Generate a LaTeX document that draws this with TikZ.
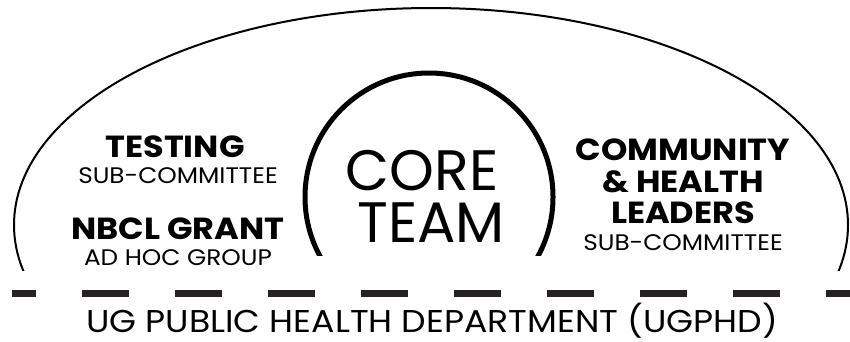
\documentclass[tikz,border=0pt]{standalone}
\usepackage{fontspec}
\setmainfont{Poppins}[FakeStretch=1.1]
\newfontfamily\corefont{Poppins}
\usetikzlibrary{positioning}
\definecolor{dashgray}{RGB}{38,34,35}

\tikzset{
  head/.style={anchor=base,font=\bfseries\fontsize{30.5}{33}\selectfont},
  sub/.style={anchor=base,font=\fontsize{22.5}{25}\selectfont},
  big/.style={anchor=base,font=\corefont\fontsize{57}{60}\selectfont},
  dept/.style={anchor=base,font=\fontsize{31.5}{34}\selectfont},
}

\begin{document}
\begin{tikzpicture}[x=1pt,y=-1pt]
\useasboundingbox (0,0) rectangle (850,341);
%% outer group, cut off above the baseline
\begin{scope}
\clip (0,0) rectangle (850,270);
\draw[line width=2pt] (431,225) ellipse [x radius=417pt,y radius=217pt];
\end{scope}
%% core team circle
\begin{scope}
\clip (0,0) rectangle (850,255);
\draw[line width=5pt] (429,197) circle [radius=124pt];
\end{scope}
%% department line
\coordinate (dl) at (12,293.5);
\coordinate (dr) at (850,293.5);
\draw[dashgray,line width=7.5pt,dash pattern=on 47pt off 46pt,dash phase=23pt] (dl) -- (dr);
%% labels
\node[big] (core) at (422,190) {CORE};
\node[big] (team) at (431,242) {TEAM};
\node[head] (testing) at (175,157) {TESTING};
\node[sub] (testsub) at (178,183) {SUB-COMMITTEE};
\node[head] (nbcl) at (178,239) {NBCL GRANT};
\node[sub] (adhoc) at (178,265) {AD HOC GROUP};
\node[head] (comm) at (683,160) {COMMUNITY};
\node[head] (health) at (683,192) {\&~HEALTH};
\node[head] (leaders) at (683,223) {LEADERS};
\node[sub] (commsub) at (683,250) {SUB-COMMITTEE};
\node[dept] (ugphd) at (432,332) {UG PUBLIC HEALTH DEPARTMENT (UGPHD)};
\end{tikzpicture}
\end{document}
